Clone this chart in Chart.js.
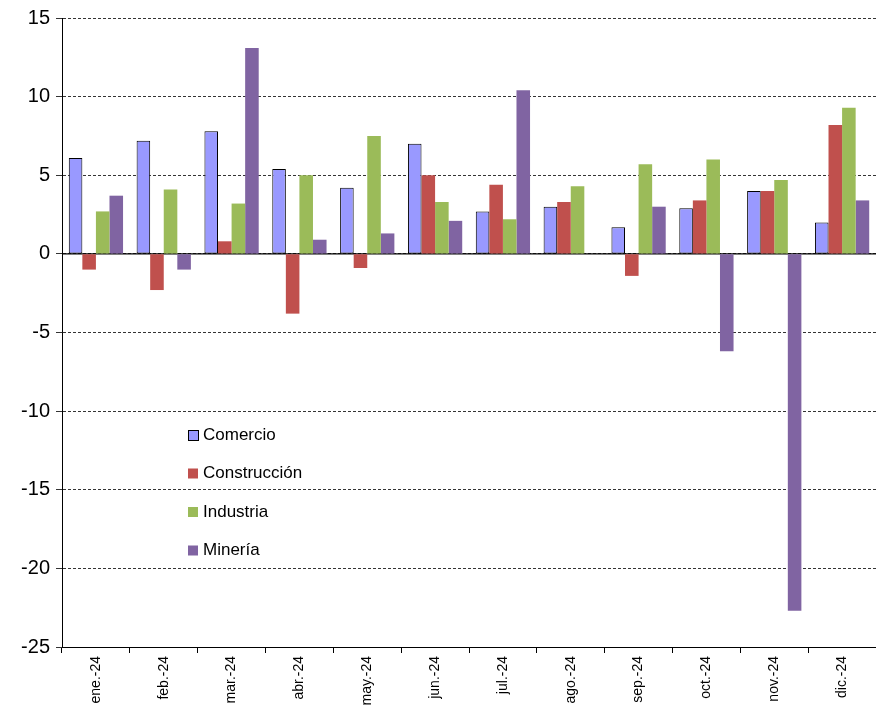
<!DOCTYPE html>
<html><head><meta charset="utf-8">
<script src="https://cdn.jsdelivr.net/npm/chart.js@4"></script>
<style>body{margin:0;background:#fff}#wrap{width:876px;height:721px}</style>
</head><body><div id="wrap"><canvas id="c"></canvas></div>
<script>
var months = ['ene.-24','feb.-24','mar.-24','abr.-24','may.-24','jun.-24','jul.-24','ago.-24','sep.-24','oct.-24','nov.-24','dic.-24'];
var comercio = [6.1, 7.2, 7.8, 5.4, 4.2, 7.0, 2.7, 3.0, 1.7, 2.9, 4.0, 2.0];
var construccion = [-1.0, -2.3, 0.8, -3.8, -0.9, 5.0, 4.4, 3.3, -1.4, 3.4, 4.0, 8.2];
var industria = [2.7, 4.1, 3.2, 5.0, 7.5, 3.3, 2.2, 4.3, 5.7, 6.0, 4.7, 9.3];
var mineria = [3.7, -1.0, 13.1, 0.9, 1.3, 2.1, 10.4, null, 3.0, -6.2, -22.7, 3.4];

var series = [
  {label: 'Comercio', data: comercio, backgroundColor: '#9999ff', borderColor: '#000', borderWidth: 1, borderSkipped: false},
  {label: 'Construcción', data: construccion, backgroundColor: '#c0504d', borderWidth: 0},
  {label: 'Industria', data: industria, backgroundColor: '#9bbb59', borderWidth: 0},
  {label: 'Minería', data: mineria, backgroundColor: '#8064a2', borderWidth: 0}
];

// legend drawn inside the plot, plus solid zero line
var innerLegend = {
  id: 'innerLegend',
  beforeDatasetsDraw: function(chart) {
    var ctx = chart.ctx, a = chart.chartArea, y0 = chart.scales.y.getPixelForValue(0);
    ctx.save();
    ctx.strokeStyle = '#000'; ctx.lineWidth = 1.2;
    ctx.beginPath(); ctx.moveTo(a.left, y0); ctx.lineTo(a.right, y0); ctx.stroke();
    ctx.restore();
  },
  afterDraw: function(chart) {
    var ctx = chart.ctx;
    ctx.save();
    ctx.font = '17px Arial, "Liberation Sans"';
    ctx.textBaseline = 'middle';
    series.forEach(function(s, i) {
      var y = 435 + i * 38.5;
      ctx.fillStyle = s.backgroundColor;
      ctx.fillRect(188, y - 5, 10, 10);
      if (s.borderWidth) { ctx.strokeStyle = '#000'; ctx.lineWidth = 1; ctx.strokeRect(188.5, y - 4.5, 10, 10); }
      ctx.fillStyle = '#000';
      ctx.fillText(s.label, 203, y);
    });
    ctx.restore();
  }
};

new Chart(document.getElementById('c'), {
  type: 'bar',
  data: {labels: months, datasets: series},
  plugins: [innerLegend],
  options: {
    responsive: true, maintainAspectRatio: false, animation: false,
    layout: {padding: {top: 18, right: 0, left: 0, bottom: 0}},
    datasets: {bar: {categoryPercentage: 0.8, barPercentage: 1}},
    plugins: {legend: {display: false}, tooltip: {enabled: false}},
    scales: {
      x: {
        afterFit: function(s) { s.height = 74; },
        grid: {display: true, drawOnChartArea: false, offset: true, color: '#000', tickLength: 6},
        border: {color: '#000'},
        ticks: {color: '#000', font: {size: 14, family: 'Arial, "Liberation Sans"'}, minRotation: 90, maxRotation: 90}
      },
      y: {
        min: -25, max: 15,
        afterFit: function(s) { s.width = 62; },
        ticks: {stepSize: 5, color: '#000', padding: 6, font: {size: 20, family: 'Arial, "Liberation Sans"'}},
        grid: {color: '#000', lineWidth: 0.8, tickLength: 6},
        border: {color: '#000', dash: [3, 2]}
      }
    }
  }
});
</script></body></html>
